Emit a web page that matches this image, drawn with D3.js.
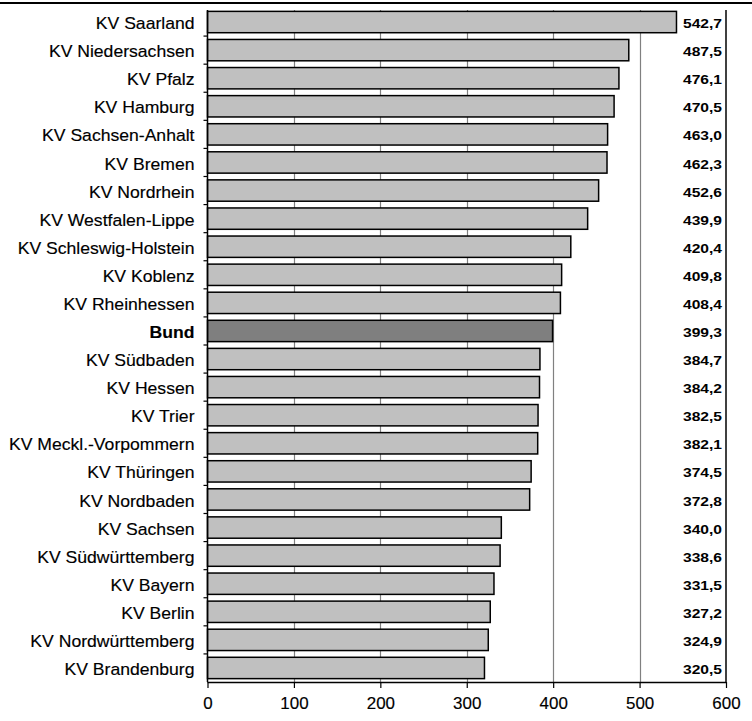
<!DOCTYPE html>
<html><head><meta charset="utf-8">
<script src="https://cdn.jsdelivr.net/npm/d3@7"></script>
<style>body{margin:0;background:#fff}svg{display:block}text{font-family:"Liberation Sans",Arial,sans-serif}</style>
</head><body>
<script>
const categories = ["KV Saarland","KV Niedersachsen","KV Pfalz","KV Hamburg","KV Sachsen-Anhalt","KV Bremen","KV Nordrhein","KV Westfalen-Lippe","KV Schleswig-Holstein","KV Koblenz","KV Rheinhessen","Bund","KV Südbaden","KV Hessen","KV Trier","KV Meckl.-Vorpommern","KV Thüringen","KV Nordbaden","KV Sachsen","KV Südwürttemberg","KV Bayern","KV Berlin","KV Nordwürttemberg","KV Brandenburg"];
const values = [542.7,487.5,476.1,470.5,463.0,462.3,452.6,439.9,420.4,409.8,408.4,399.3,384.7,384.2,382.5,382.1,374.5,372.8,340.0,338.6,331.5,327.2,324.9,320.5];
const highlight = "Bund";
const xTicks = [0,100,200,300,400,500,600];

(function(){
const W=752,H=721;
const pL=207.5,pR=726,pT=8,pB=682;
const svg=d3.select("body").append("svg").attr("width",W).attr("height",H);
const x=d3.scaleLinear().domain([0,600]).range([pL,pR]);
const y=d3.scaleBand().domain(categories).range([pT,pB]).paddingInner(0.24).paddingOuter(0.12);
const yb=d3.scaleBand().domain(categories).range([pT,pB]);

svg.append("line").attr("x1",0).attr("x2",W).attr("y1",3).attr("y2",3).attr("stroke","#000").attr("stroke-width",2);

svg.append("g").selectAll("line").data(xTicks.filter(d=>d>0&&d<600)).join("line")
 .attr("x1",d=>Math.round(x(d))+0.5).attr("x2",d=>Math.round(x(d))+0.5).attr("y1",10).attr("y2",pB)
 .attr("stroke","#808080").attr("stroke-width",1.2);

svg.append("g").selectAll("rect").data(categories).join("rect")
 .attr("x",x(0)).attr("y",d=>y(d)).attr("height",y.bandwidth())
 .attr("width",(d,i)=>x(values[i])-x(0))
 .attr("fill",d=>d===highlight?"#7f7f7f":"#c0c0c0").attr("stroke","#000").attr("stroke-width",1.5);

svg.append("line").attr("x1",pR).attr("x2",pR).attr("y1",10).attr("y2",pB).attr("stroke","#000").attr("stroke-width",1.5);

const gy=svg.append("g");
gy.append("line").attr("x1",pL).attr("x2",pL).attr("y1",10).attr("y2",pB).attr("stroke","#000").attr("stroke-width",1.5);
gy.selectAll("line.t").data(d3.range(1,categories.length)).join("line").attr("class","t")
 .attr("x1",pL-4).attr("x2",pL).attr("y1",i=>pT+i*yb.step()).attr("y2",i=>pT+i*yb.step()).attr("stroke","#000").attr("stroke-width",1.2);
gy.selectAll("text").data(categories).join("text")
 .attr("transform",d=>`translate(194.5,${yb(d)+yb.bandwidth()/2+1.5}) scale(1.1,1)`)
 .attr("dy","0.35em").attr("text-anchor","end")
 .attr("font-size",16).attr("stroke","#000").attr("stroke-width",0.15)
 .attr("font-weight",d=>d===highlight?"bold":"normal").text(d=>d);

const xAxis=d3.axisBottom(x).tickValues(xTicks).tickSize(6).tickPadding(10).tickFormat(d3.format("d"));
const gx=svg.append("g").attr("transform",`translate(0,${pB})`).call(xAxis);
gx.select(".domain").attr("stroke-width",1.5).attr("d",`M${pL},0.5H${pR}`);
gx.selectAll(".tick line").attr("stroke-width",1.2);
gx.selectAll(".tick text").attr("font-size",16).attr("transform","scale(1.06,1)").attr("stroke","#000").attr("stroke-width",0.15)
 .attr("font-family","Liberation Sans, Arial, sans-serif").attr("fill","#000");

svg.append("g").selectAll("text").data(categories).join("text")
 .attr("transform",d=>`translate(722,${yb(d)+yb.bandwidth()/2+1.5}) scale(1.2,1)`)
 .attr("dy","0.35em").attr("text-anchor","end")
 .attr("font-size",13).attr("font-weight","bold")
 .text((d,i)=>d3.format(".1f")(values[i]).replace(".",","));
})();
</script>
</body></html>
